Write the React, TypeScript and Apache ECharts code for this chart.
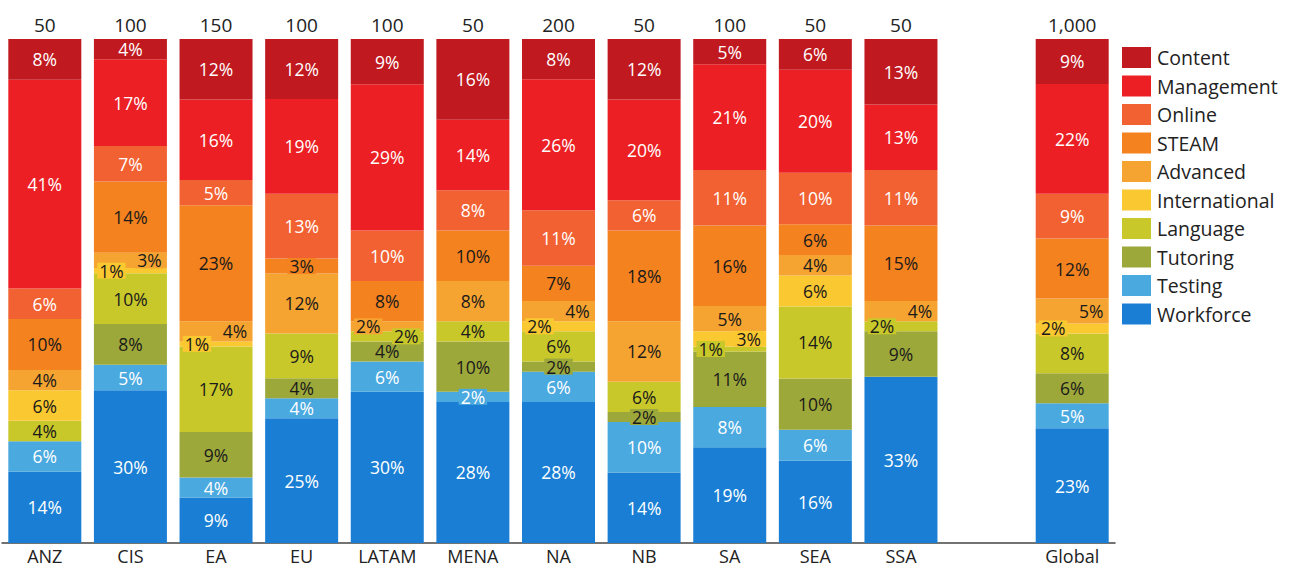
import React, { useEffect, useRef } from "react";
import * as echarts from "echarts";

const categories = ["ANZ", "CIS", "EA", "EU", "LATAM", "MENA", "NA", "NB", "SA", "SEA", "SSA", "", "Global"];
const respondents = ["50", "100", "150", "100", "100", "50", "200", "50", "100", "50", "50", "", "1,000"];

const workforce = [14, 30, 9, 25, 30, 28, 28, 14, 19, 16, 33, null, 23];
const testing = [6, 5, 4, 4, 6, 2, 6, 10, 8, 6, 0, null, 5];
const tutoring = [0, 8, 9, 4, 4, 10, 2, 2, 11, 10, 9, null, 6];
const language = [4, 10, 17, 9, 2, 4, 6, 6, 1, 14, 2, null, 8];
const international = [6, 1, 1, 0, 0, 0, 2, 0, 3, 6, 0, null, 2];
const advanced = [4, 3, 4, 12, 2, 8, 4, 12, 5, 4, 4, null, 5];
const steam = [10, 14, 23, 3, 8, 10, 7, 18, 16, 6, 15, null, 12];
const online = [6, 7, 5, 13, 10, 8, 11, 6, 11, 10, 11, null, 9];
const management = [41, 17, 16, 19, 29, 14, 26, 20, 21, 20, 13, null, 22];
const content = [8, 4, 12, 12, 9, 16, 8, 12, 5, 6, 13, null, 9];

const seriesDefs = [
  { name: "Workforce", data: workforce, color: "#1A7FD4", text: "#ffffff" },
  { name: "Testing", data: testing, color: "#4AA9DF", text: "#ffffff" },
  { name: "Tutoring", data: tutoring, color: "#9DA83A", text: "#1a1a1a" },
  { name: "Language", data: language, color: "#C9C82B", text: "#1a1a1a" },
  { name: "International", data: international, color: "#FAC830", text: "#1a1a1a" },
  { name: "Advanced", data: advanced, color: "#F6A431", text: "#1a1a1a" },
  { name: "STEAM", data: steam, color: "#F3821F", text: "#1a1a1a" },
  { name: "Online", data: online, color: "#F26132", text: "#ffffff" },
  { name: "Management", data: management, color: "#EC2024", text: "#ffffff" },
  { name: "Content", data: content, color: "#C0191F", text: "#ffffff" },
];

// label placement for thin segments (style, not data)
const sideLabels: Record<string, number> = {
  "CIS|International": -19, "CIS|Advanced": 19,
  "EA|International": -19, "EA|Advanced": 19,
  "LATAM|Advanced": -19, "LATAM|Language": 19,
  "NA|International": -19, "NA|Advanced": 19,
  "SA|Language": -19, "SA|International": 19,
  "SSA|Language": -19, "SSA|Advanced": 19,
  "Global|International": -19, "Global|Advanced": 19,
};

const FONT = "'Open Sans'";

export default function App() {
  const ref = useRef<HTMLDivElement>(null);
  useEffect(() => {
    if (!ref.current) return;
    const chart = echarts.init(ref.current, null, { renderer: "svg" });
    const totals = categories.map((_, i) =>
      seriesDefs.reduce((s, d) => s + ((d.data[i] as number) || 0), 0)
    );
    const series = seriesDefs.map((d) => ({
      name: d.name,
      type: "bar",
      stack: "total",
      barWidth: 73,
      xAxisIndex: 0,
      itemStyle: { color: d.color },
      data: d.data.map((v, i) => {
        if (v === null) return null;
        const key = categories[i] + "|" + d.name;
        const off = sideLabels[key];
        return {
          value: totals[i] ? ((v as number) * 100) / totals[i] : 0,
          raw: v,
          label: {
            show: (v as number) > 0,
            formatter: v + "%",
            offset: off !== undefined ? [off, 0] : [0, 0],
          },
        };
      }),
      label: {
        show: true,
        position: "inside",
        color: d.text,
        fontSize: 17.5,
        fontFamily: FONT,
        backgroundColor: d.color,
        padding: [0, 2],
        lineHeight: 16,
      },
    }));
    chart.setOption({
      animation: false,
      textStyle: { fontFamily: FONT },
      grid: { left: 2, right: 177, top: 39, bottom: 25, containLabel: false },
      legend: {
        orient: "vertical",
        left: 1122,
        top: 47,
        padding: 0,
        itemWidth: 29,
        itemHeight: 21,
        itemGap: 7.5,
        icon: "rect",
        data: [...seriesDefs].reverse().map((d) => d.name),
        textStyle: { fontSize: 19.5, color: "#222", fontFamily: FONT, padding: [0, 0, 0, 1] },
      },
      xAxis: [
        {
          type: "category",
          data: categories,
          position: "bottom",
          axisLine: { lineStyle: { color: "#444", width: 1.5 } },
          axisTick: { show: false },
          axisLabel: { fontSize: 18, color: "#222", fontFamily: FONT, margin: 4, interval: 0, lineHeight: 18 },
        },
        {
          type: "category",
          data: respondents,
          position: "top",
          axisLine: { show: false },
          axisTick: { show: false },
          axisLabel: { fontSize: 19, color: "#222", fontFamily: FONT, margin: 5, interval: 0 },
        },
      ],
      yAxis: { type: "value", min: 0, max: 100, show: false },
      series,
    });
    return () => chart.dispose();
  }, []);
  return (
    <div
      ref={ref}
      style={{ position: "fixed", left: 0, top: 0, width: 1292, height: 568, background: "#fff" }}
    />
  );
}
